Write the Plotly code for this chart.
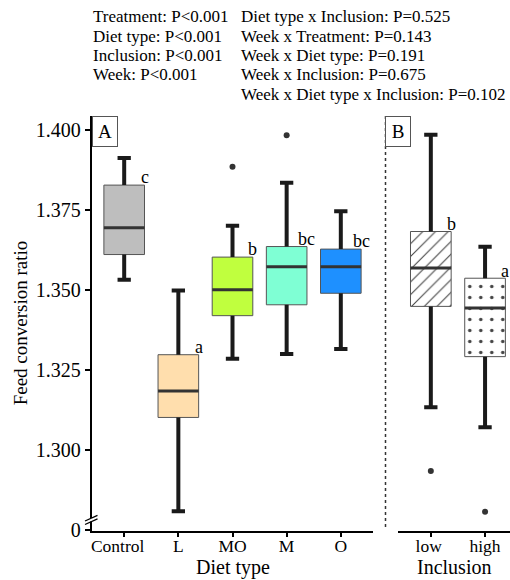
import plotly.graph_objects as go

# ---------------- data ----------------
diet_types = ["Control", "L", "MO", "M", "O"]
diet_upper = [1.3913, 1.3499, 1.3701, 1.3835, 1.3746]
diet_q3 = [1.3828, 1.3298, 1.3603, 1.3636, 1.3628]
diet_median = [1.3695, 1.3185, 1.3501, 1.3573, 1.3573]
diet_q1 = [1.3611, 1.3102, 1.3420, 1.3454, 1.3490]
diet_lower = [1.3532, 1.2809, 1.3285, 1.3300, 1.3316]
diet_letters = ["c", "a", "b", "bc", "bc"]
diet_outlier_group = ["MO", "M"]
diet_outlier_value = [1.3885, 1.3984]

inclusion_levels = ["low", "high"]
incl_upper = [1.3985, 1.3635]
incl_q3 = [1.3683, 1.3537]
incl_median = [1.3569, 1.3444]
incl_q1 = [1.3449, 1.3292]
incl_lower = [1.3134, 1.3071]
incl_letters = ["b", "a"]
incl_outlier_group = ["low", "high"]
incl_outlier_value = [1.2935, 1.2807]

y_tick_values = [1.275, 1.300, 1.325, 1.350, 1.375, 1.400]
y_tick_labels = ["0", "1.300", "1.325", "1.350", "1.375", "1.400"]

stats_left = ["Treatment: P<0.001", "Diet type: P<0.001", "Inclusion: P<0.001", "Week: P<0.001"]
stats_right = ["Diet type x Inclusion: P=0.525", "Week x Treatment: P=0.143",
               "Week x Diet type: P=0.191", "Week x Inclusion: P=0.675",
               "Week x Diet type x Inclusion: P=0.102"]

# ---------------- styles ----------------
W, H = 510, 580
FONT = "Liberation Serif"
diet_colors = ["#BEBEBE", "#FFDEAD", "#C0FF3E", "#7FFFD4", "#1E90FF"]
incl_patterns = [dict(shape="/", size=9, solidity=0.12), dict(shape=".", size=11, solidity=0.08)]
label_pad = {"Control": 3, "low": 1}   # trailing spaces as in the original labels
BOX_W = 0.75


def px(x):
    return x / W


def py(y):
    return (H - y) / H


def padded(labels):
    return [t + "\u00a0" * label_pad.get(t, 0) for t in labels]


A_L, A_R = 91.7, 373.3
B_L, B_R = 398.3, 510
TOP, BOT = 116, 530.7

all_vals = diet_lower + diet_upper + incl_lower + incl_upper + diet_outlier_value + incl_outlier_value
lo, hi = min(all_vals), max(all_vals)
pad = (hi - lo) * 0.05
y_range = [lo - pad, hi + pad]

fig = go.Figure()


def add_panel(cats, upper, q3, med, q1, lower, out_grp, out_val, xa, ya, colors, patterns=None):
    idx = list(range(len(cats)))
    for i in idx:
        marker = dict(color=colors[i], line=dict(color="#555555", width=1))
        if patterns is not None:
            marker["pattern"] = dict(fgcolor="#444444", bgcolor="white", fillmode="replace",
                                     **patterns[i])
        fig.add_trace(go.Bar(x=[i], y=[q3[i] - q1[i]], base=[q1[i]], width=BOX_W,
                             marker=marker, xaxis=xa, yaxis=ya, showlegend=False,
                             hoverinfo="skip"))
    wx, wy = [], []
    for i in idx:
        wx += [i, i, None, i, i, None]
        wy += [q3[i], upper[i], None, q1[i], lower[i], None]
    fig.add_trace(go.Scatter(x=wx, y=wy, mode="lines", line=dict(color="#1a1a1a", width=4),
                             xaxis=xa, yaxis=ya, showlegend=False, hoverinfo="skip"))
    fig.add_trace(go.Scatter(x=idx + idx, y=upper + lower, mode="markers",
                             marker=dict(symbol="line-ew", size=9.5,
                                         line=dict(color="#1a1a1a", width=4)),
                             xaxis=xa, yaxis=ya, showlegend=False, hoverinfo="skip"))
    fig.add_trace(go.Scatter(x=idx, y=med, mode="markers",
                             marker=dict(size=1, color="rgba(0,0,0,0)"),
                             error_x=dict(type="constant", value=BOX_W / 2, thickness=3,
                                          width=0, color="#333333"),
                             xaxis=xa, yaxis=ya, showlegend=False, hoverinfo="skip"))
    fig.add_trace(go.Scatter(x=[cats.index(g) for g in out_grp], y=out_val, mode="markers",
                             marker=dict(size=6, color="#333333"),
                             xaxis=xa, yaxis=ya, showlegend=False, hoverinfo="skip"))


add_panel(diet_types, diet_upper, diet_q3, diet_median, diet_q1, diet_lower,
          diet_outlier_group, diet_outlier_value, "x", "y", diet_colors)
add_panel(inclusion_levels, incl_upper, incl_q3, incl_median, incl_q1, incl_lower,
          incl_outlier_group, incl_outlier_value, "x2", "y2", ["white", "white"],
          patterns=incl_patterns)

annotations = []
for i, (lab, q) in enumerate(zip(diet_letters, diet_q3)):
    annotations.append(dict(x=i + BOX_W / 2, y=q, xref="x", yref="y", text=lab, showarrow=False,
                            xanchor="center", yanchor="bottom", yshift=-4,
                            font=dict(family=FONT, size=18, color="black")))
for i, (lab, q) in enumerate(zip(incl_letters, incl_q3)):
    annotations.append(dict(x=i + BOX_W / 2, y=q, xref="x2", yref="y2", text=lab, showarrow=False,
                            xanchor="center", yanchor="bottom", yshift=-5,
                            font=dict(family=FONT, size=18, color="black")))

for k, t in enumerate(stats_left):
    annotations.append(dict(x=px(90.7), y=py(16.7 + 19.4 * k), xref="paper", yref="paper",
                            text=t.replace("<", "&lt;"), showarrow=False, xanchor="left",
                            yanchor="middle", font=dict(family=FONT, size=17, color="black")))
for k, t in enumerate(stats_right):
    annotations.append(dict(x=px(238.5), y=py(16.7 + 19.4 * k), xref="paper", yref="paper",
                            text=t.replace("<", "&lt;"), showarrow=False, xanchor="left",
                            yanchor="middle", font=dict(family=FONT, size=17, color="black")))

# panel labels
for lab, xl in [("A", A_L), ("B", 385.3)]:
    annotations.append(dict(x=px(xl), y=py(TOP), xref="paper", yref="paper", text=lab,
                            showarrow=False, xanchor="left", yanchor="top",
                            bordercolor="#555555", borderwidth=1, borderpad=1, bgcolor="white",
                            width=22, height=27,
                            font=dict(family=FONT, size=19, color="black")))

# axis titles
annotations.append(dict(x=px((A_L + A_R) / 2), y=py(567), xref="paper", yref="paper",
                        text="Diet type", showarrow=False, xanchor="center", yanchor="middle",
                        font=dict(family=FONT, size=20, color="black")))
annotations.append(dict(x=px((B_L + B_R) / 2), y=py(567), xref="paper", yref="paper",
                        text="Inclusion", showarrow=False, xanchor="center", yanchor="middle",
                        font=dict(family=FONT, size=20, color="black")))
annotations.append(dict(x=px(20), y=py((TOP + BOT) / 2), xref="paper", yref="paper",
                        text="Feed conversion ratio", showarrow=False, textangle=-90,
                        xanchor="center", yanchor="middle",
                        font=dict(family=FONT, size=19, color="black")))

shapes = [
    # dotted separator
    dict(type="line", xref="paper", yref="paper", x0=px(385.5), x1=px(385.5),
         y0=py(TOP), y1=py(527), line=dict(color="#333333", width=1.5, dash="dot")),
    # axis break: white gap + two slanted strokes
    dict(type="rect", xref="paper", yref="paper", x0=px(89), x1=px(95),
         y0=py(521.5), y1=py(518), fillcolor="white", line=dict(width=0), layer="above"),
    dict(type="line", xref="paper", yref="paper", x0=px(85), x1=px(97.5),
         y0=py(521), y1=py(515.3), line=dict(color="black", width=1.3)),
    dict(type="line", xref="paper", yref="paper", x0=px(85), x1=px(97.5),
         y0=py(524.5), y1=py(518.8), line=dict(color="black", width=1.3)),
]

axis_common = dict(showgrid=False, zeroline=False, showline=True, linecolor="black",
                   linewidth=2, ticks="outside", tickcolor="black", mirror=False)

fig.update_layout(
    template="none",
    width=W, height=H,
    margin=dict(l=0, r=0, t=0, b=0),
    paper_bgcolor="white", plot_bgcolor="white",
    barmode="overlay",
    showlegend=False,
    font=dict(family=FONT, color="black"),
    xaxis=dict(domain=[px(A_L), px(A_R)], range=[-0.6, len(diet_types) - 0.4],
               tickvals=list(range(len(diet_types))), ticktext=padded(diet_types),
               ticklen=4, tickwidth=1.5, anchor="y", ticklabelstandoff=-6,
               tickfont=dict(family=FONT, size=17.5, color="black"), **axis_common),
    yaxis=dict(domain=[py(BOT), py(TOP)], range=y_range, tickvals=y_tick_values,
               ticktext=y_tick_labels, ticklen=5, tickwidth=1.5, anchor="x",
               tickfont=dict(family=FONT, size=20, color="black"), **axis_common),
    xaxis2=dict(domain=[px(B_L), px(B_R)], range=[-0.6, 1.46],
                tickvals=list(range(len(inclusion_levels))), ticktext=padded(inclusion_levels),
                ticklen=4, tickwidth=1.5, anchor="y2", ticklabelstandoff=-6,
                tickfont=dict(family=FONT, size=17.5, color="black"), **axis_common),
    yaxis2=dict(domain=[py(BOT), py(TOP)], range=y_range, anchor="x2", visible=False),
    annotations=annotations,
    shapes=shapes,
)

fig.write_html("out.html", config={"displayModeBar": False},
               post_script="document.body.style.margin='0px';"
                           "document.body.style.overflow='hidden';")
